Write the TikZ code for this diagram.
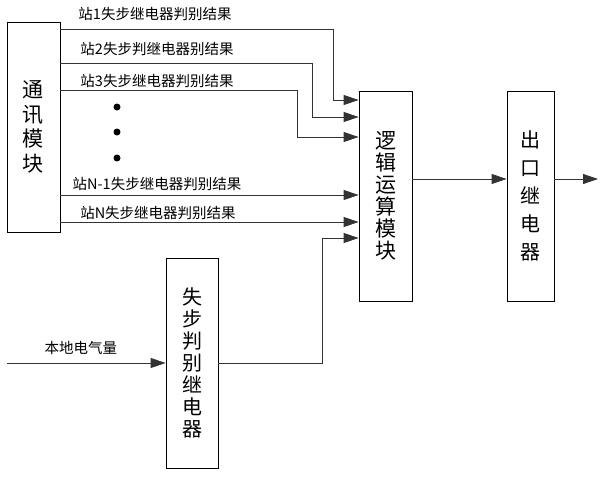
\documentclass[tikz,border=0pt]{standalone}
\usepackage{fontspec}
\setmainfont{Noto Sans CJK SC}
\usetikzlibrary{positioning,calc,arrows.meta}
\tikzset{font=\fontsize{14.5}{16}\selectfont}

\begin{document}
\begin{tikzpicture}[x=1pt, y=-1pt]
	\begin{scope}
		\tikzstyle{every node}=[align=center, inner sep=0pt]
		\tikzstyle{block}=[draw, line width=0.8pt, minimum height=210pt]
		\tikzstyle{wire}=[line width=0.8pt, draw=black!80]
		\tikzstyle{arr}=[wire, -{Triangle[length=15pt, width=10pt]}]
		\useasboundingbox (0,0) rectangle (603,477);

		\node[block, minimum width=53pt, font=\fontsize{21}{24.5}\selectfont] (comm) at (33.5, 127) {通\\讯\\模\\块};
		\node[block, minimum width=53pt, font=\fontsize{21}{22}\selectfont] (logic) at (385.5, 196) {逻\\辑\\运\\算\\模\\块};
		\node[block, minimum width=47pt, font=\fontsize{20}{28}\selectfont] (out) at (530.5, 196) {出\\口\\继\\电\\器};
		\node[block, minimum width=52pt, font=\fontsize{20}{22}\selectfont] (relay) at (192, 363) {失\\步\\判\\别\\继\\电\\器};

		\node (lab1) at (155, 14) {站1失步继电器判别结果};
		\node (lab2) at (157, 49) {站2失步判继电器别结果};
		\node (lab3) at (157, 81) {站3失步继电器判别结果};
		\node (labn1) at (157, 184) {站N-1失步继电器判别结果};
		\node (labn) at (158, 213) {站N失步继电器判别结果};
		\node (lablocal) at (81, 348) {本地电气量};

		\fill (117, 107) circle (3.5pt);
		\fill (117, 132) circle (3.5pt);
		\fill (117, 158) circle (3.5pt);

		\coordinate (src) at (7, 363);
		\coordinate (sink) at (598, 179);

		\draw[arr] (comm.east |- 0,29.5) -| (333,100) -- (logic.west |- 0,100);
		\draw[arr] (comm.east |- 0,63) -| (312,117) -- (logic.west |- 0,117);
		\draw[arr] (comm.east |- 0,90) -| (297,137) -- (logic.west |- 0,137);
		\draw[arr] (comm.east |- 0,195) -- (logic.west |- 0,195);
		\draw[arr] (comm.east |- 0,222) -- (logic.west |- 0,222);
		\draw[arr] (relay.east) -| (322,238) -- (logic.west |- 0,238);
		\draw[arr] (src) -- (relay.west);
		\draw[arr] (logic.east |- 0,179) -- (out.west |- 0,179);
		\draw[arr] (out.east |- 0,179) -- (sink);

	\end{scope}
\end{tikzpicture}
\end{document}
